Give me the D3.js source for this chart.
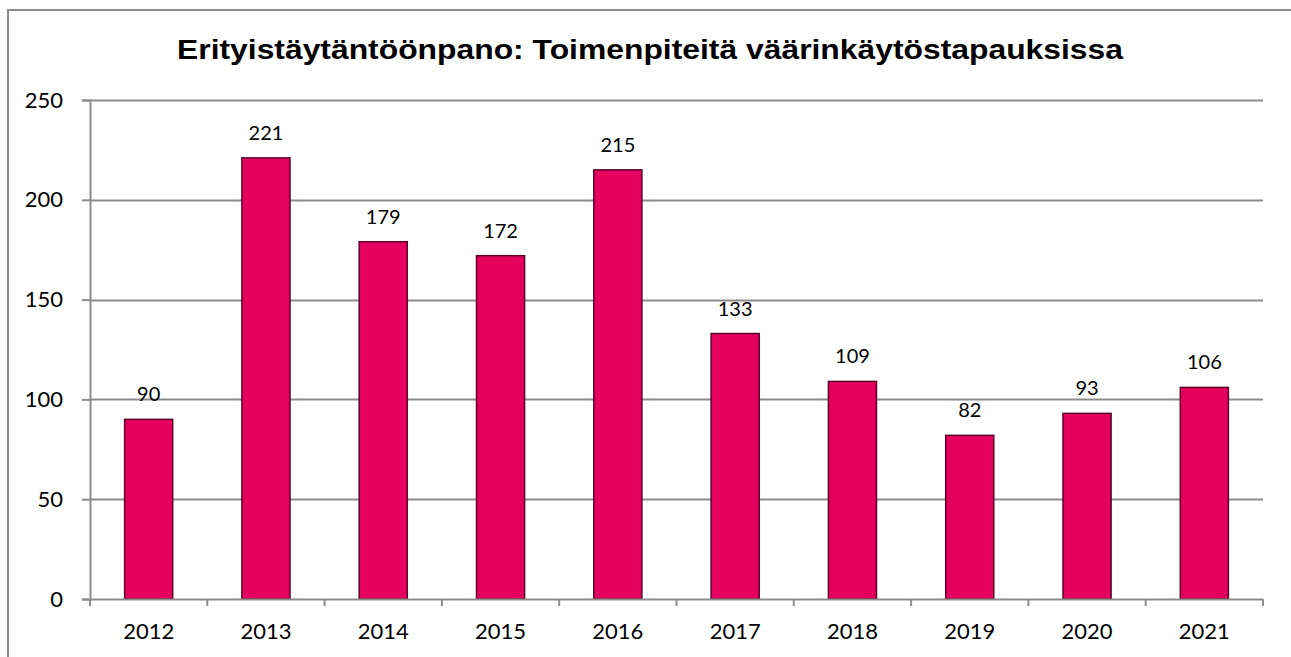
<!DOCTYPE html>
<html>
<head>
<meta charset="utf-8">
<script src="https://cdn.jsdelivr.net/npm/d3@7/dist/d3.min.js"></script>
<style>
  html, body { margin: 0; padding: 0; background: #fff; overflow: hidden; }
  svg { display: block; }
</style>
</head>
<body>
<svg id="chart" width="1291" height="657"></svg>
<script>
// Chart data
const title = "Erityistäytäntöönpano: Toimenpiteitä väärinkäytöstapauksissa";
const years = ["2012", "2013", "2014", "2015", "2016", "2017", "2018", "2019", "2020", "2021"];
const cases = [90, 221, 179, 172, 215, 133, 109, 82, 93, 106];
const yTicks = [0, 50, 100, 150, 200, 250];

const svg = d3.select("#chart");
const W = 1291, H = 657;
const plot = { left: 90, right: 1263, top: 100, bottom: 599 };
const labelFont = "Lato, 'Open Sans', sans-serif";

// Outer chart frame: only its top and left edges fall inside the page
svg.append("path")
  .attr("d", `M8,${H} V10 H${W}`)
  .attr("fill", "none")
  .attr("stroke", "#8c8c8c").attr("stroke-width", 2);

// Title
svg.append("text")
  .attr("x", 650).attr("y", 58.5)
  .attr("text-anchor", "middle")
  .attr("font-family", "'Liberation Sans', Arial, sans-serif")
  .attr("font-weight", "bold")
  .attr("font-size", 28)
  .attr("textLength", 946)
  .attr("lengthAdjust", "spacingAndGlyphs")
  .attr("fill", "#000")
  .text(title);

const x = d3.scaleBand().domain(years).range([plot.left, plot.right]).paddingInner(0.59).paddingOuter(0.295);
const y = d3.scaleLinear().domain([0, 250]).range([plot.bottom, plot.top]);

// Horizontal gridlines
svg.append("g")
  .selectAll("line")
  .data(yTicks.filter(d => d > 0))
  .join("line")
  .attr("x1", plot.left).attr("x2", plot.right)
  .attr("y1", d => Math.round(y(d)) + 0.5).attr("y2", d => Math.round(y(d)) + 0.5)
  .attr("stroke", "#8c8c8c").attr("stroke-width", 2);

// Y axis
const yAxis = svg.append("g")
  .attr("transform", `translate(${plot.left},0)`)
  .call(d3.axisLeft(y).tickValues(yTicks).tickSize(8).tickPadding(19).tickFormat(d3.format("d")));
yAxis.select(".domain").attr("stroke", "#8c8c8c").attr("stroke-width", 2);
yAxis.selectAll(".tick line").attr("stroke", "#8c8c8c").attr("stroke-width", 2);
yAxis.selectAll(".tick text")
  .attr("font-family", labelFont).attr("font-size", 22).attr("fill", "#000");

// Bars
svg.append("g")
  .selectAll("rect")
  .data(years.map((yr, i) => ({ yr, v: cases[i] })))
  .join("rect")
  .attr("x", d => x(d.yr))
  .attr("y", d => y(d.v))
  .attr("width", x.bandwidth())
  .attr("height", d => y(0) - y(d.v))
  .attr("fill", "#E5005E")
  .attr("stroke", "#5c0029")
  .attr("stroke-width", 1.5);

// Value labels
svg.append("g")
  .selectAll("text")
  .data(years.map((yr, i) => ({ yr, v: cases[i] })))
  .join("text")
  .attr("x", d => x(d.yr) + x.bandwidth() / 2)
  .attr("y", d => y(d.v) - 18)
  .attr("text-anchor", "middle")
  .attr("font-family", labelFont).attr("font-size", 20)
  .attr("fill", "#000")
  .text(d => d.v);

// X axis with ticks at category boundaries
const step = (plot.right - plot.left) / years.length;
const xg = svg.append("g");
xg.append("line")
  .attr("x1", plot.left).attr("x2", plot.right)
  .attr("y1", plot.bottom + 0.5).attr("y2", plot.bottom + 0.5)
  .attr("stroke", "#8c8c8c").attr("stroke-width", 2);
xg.selectAll("line.tick")
  .data(d3.range(years.length + 1))
  .join("line")
  .attr("class", "tick")
  .attr("x1", i => plot.left + i * step).attr("x2", i => plot.left + i * step)
  .attr("y1", plot.bottom).attr("y2", plot.bottom + 7)
  .attr("stroke", "#8c8c8c").attr("stroke-width", 2);
xg.selectAll("text")
  .data(years)
  .join("text")
  .attr("x", d => x(d) + x.bandwidth() / 2)
  .attr("y", 639)
  .attr("text-anchor", "middle")
  .attr("font-family", labelFont).attr("font-size", 22)
  .attr("fill", "#000")
  .text(d => d);
</script>
</body>
</html>
